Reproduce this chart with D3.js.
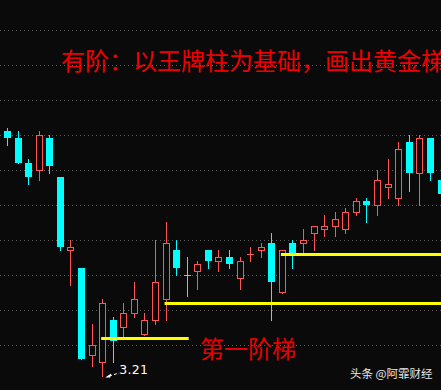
<!DOCTYPE html>
<html>
<head>
<meta charset="utf-8">
<script src="https://cdn.jsdelivr.net/npm/d3@7"></script>
<style>
  html, body { margin: 0; padding: 0; background: #0a0a0a; }
  svg { display: block; }
</style>
</head>
<body>
<script>
// daily bars, oldest first (price)
const opens  = [3.911, 3.891, 3.820, 3.797, 3.891, 3.780, 3.569, 3.520, 3.269, 3.249,
                3.371, 3.349, 3.389, 3.329, 3.369, 3.429, 3.571, 3.500, 3.509, 3.571,
                3.537, 3.551, 3.489, 3.560, 3.569, 3.591, 3.449, 3.591, 3.589, 3.617,
                3.629, 3.637, 3.629, 3.677, 3.711, 3.697, 3.749, 3.717, 3.880, 3.789,
                3.891, 3.771];
const highs  = [3.920, 3.911, 3.831, 3.911, 3.900, 3.780, 3.600, 3.520, 3.360, 3.431,
                3.380, 3.420, 3.480, 3.391, 3.600, 3.651, 3.600, 3.551, 3.540, 3.571,
                3.571, 3.571, 3.551, 3.580, 3.591, 3.620, 3.571, 3.600, 3.631, 3.640,
                3.671, 3.680, 3.691, 3.720, 3.720, 3.800, 3.831, 3.880, 3.900, 3.900,
                3.891, 3.771];
const lows   = [3.871, 3.820, 3.760, 3.771, 3.791, 3.571, 3.471, 3.260, 3.240, 3.210,
                3.251, 3.323, 3.380, 3.329, 3.360, 3.371, 3.500, 3.440, 3.460, 3.520,
                3.511, 3.520, 3.460, 3.540, 3.551, 3.371, 3.449, 3.520, 3.560, 3.571,
                3.611, 3.611, 3.620, 3.671, 3.651, 3.671, 3.720, 3.700, 3.740, 3.700,
                3.771, 3.731];
const closes = [3.891, 3.820, 3.780, 3.900, 3.811, 3.580, 3.580, 3.260, 3.300, 3.420,
                3.311, 3.391, 3.431, 3.371, 3.480, 3.591, 3.520, 3.499, 3.531, 3.540,
                3.551, 3.531, 3.540, 3.560, 3.580, 3.480, 3.571, 3.560, 3.600, 3.640,
                3.640, 3.660, 3.680, 3.711, 3.700, 3.771, 3.760, 3.860, 3.791, 3.891,
                3.791, 3.731];

const gridPrices = [3.3, 3.4, 3.5, 3.6, 3.7, 3.8, 3.9, 4.0, 4.1, 4.2];

// golden steps: start bar, end bar (null = runs to the edge), level
const stepFrom  = [9, 15, 26];
const stepTo    = [17, null, null];
const stepLevel = [3.3186, 3.4186, 3.5586];

const lowLabel = "3.21";
const lowBar = 9;
const titleText = "有阶：以王牌柱为基础，画出黄金梯";
const stepText = "第一阶梯";
const watermark = "头条 @阿霏财经";

const W = 441, H = 390;
const UP = "#ff5454", DOWN = "#00ffff", BG = "#0a0a0a";

const svg = d3.select("body").append("svg")
  .attr("width", W)
  .attr("height", H);

svg.append("rect").attr("width", W).attr("height", H).attr("fill", BG);

const x = d3.scaleLinear().domain([0, 41]).range([7.5, 441]);
const y = d3.scaleLinear().domain([3.3, 4.2]).range([345, 30]);

const snap = v => Math.round(v - 0.5) + 0.5;

// dotted grid
const grid = svg.append("g")
  .call(d3.axisLeft(y).tickValues(gridPrices).tickSize(-W).tickFormat(""));
grid.select(".domain").remove();
grid.selectAll(".tick line")
  .attr("stroke", "#5c5c5c")
  .attr("stroke-dasharray", "1,3");

const bars = d3.range(opens.length).map(i => ({
  i: i, o: opens[i], h: highs[i], l: lows[i], c: closes[i]
}));

const candles = svg.append("g").selectAll("g")
  .data(bars)
  .enter().append("g");

// wicks
candles.append("line")
  .attr("x1", d => snap(x(d.i)))
  .attr("x2", d => snap(x(d.i)))
  .attr("y1", d => Math.round(y(d.h)))
  .attr("y2", d => Math.round(y(d.l)) + 1)
  .attr("stroke", d => d.c >= d.o ? UP : DOWN)
  .attr("stroke-width", 1);

// bodies
candles.each(function(d) {
  const g = d3.select(this);
  const cx = snap(x(d.i));
  const top = Math.round(y(Math.max(d.o, d.c)));
  const bot = Math.round(y(Math.min(d.o, d.c)));
  const col = d.c >= d.o ? UP : DOWN;
  if (bot - top < 2) {
    g.append("rect")
      .attr("x", cx - 3.5).attr("y", top)
      .attr("width", 7).attr("height", 1)
      .attr("fill", col);
  } else if (d.c >= d.o) {
    g.append("rect")
      .attr("x", cx - 3).attr("y", top + 0.5)
      .attr("width", 6).attr("height", bot - top - 1)
      .attr("fill", BG)
      .attr("stroke", col)
      .attr("stroke-width", 1);
  } else {
    g.append("rect")
      .attr("x", cx - 3.5).attr("y", top)
      .attr("width", 7).attr("height", bot - top)
      .attr("fill", col);
  }
});

// yellow step lines
svg.append("g").selectAll("line")
  .data(stepLevel)
  .enter().append("line")
    .attr("x1", (d, k) => x(stepFrom[k]) - 1.5)
    .attr("x2", (d, k) => stepTo[k] == null ? W : x(stepTo[k]) + 1.5)
    .attr("y1", d => y(d))
    .attr("y2", d => y(d))
    .attr("stroke", "#ffff00")
    .attr("stroke-width", 3);

// low marker
const ax = x(lowBar) + 2.5, ay = y(lows[lowBar]) + 1;
svg.append("line")
  .attr("x1", ax + 4).attr("y1", ay - 1.5)
  .attr("x2", ax + 14).attr("y2", ay - 4.5)
  .attr("stroke", "#ffffff")
  .attr("stroke-width", 1)
  .attr("stroke-dasharray", "3,2");
svg.append("path")
  .attr("d", `M${ax},${ay} L${ax + 6},${ay - 4} L${ax + 5},${ay} Z`)
  .attr("fill", "#ffffff");
svg.append("text")
  .attr("x", ax + 14).attr("y", ay - 3.5)
  .attr("fill", "#ffffff")
  .style("font-family", "'DejaVu Sans', sans-serif")
  .style("font-size", "12.5px")
  .style("letter-spacing", "0.3px")
  .text(lowLabel);

// captions
svg.append("text")
  .attr("x", 61).attr("y", 70)
  .attr("fill", "#f00000")
  .style("font-family", "'Noto Sans CJK SC', sans-serif")
  .style("font-size", "24px")
  .text(titleText);

svg.append("text")
  .attr("x", 200).attr("y", 358)
  .attr("fill", "#e80000")
  .style("font-family", "'Noto Sans CJK SC', sans-serif")
  .style("font-size", "24px")
  .text(stepText);

svg.append("text")
  .attr("x", 350).attr("y", 378)
  .attr("fill", "#e8e8e8")
  .style("font-family", "'Noto Sans CJK SC', sans-serif")
  .style("font-size", "11.5px")
  .text(watermark);
</script>
</body>
</html>
